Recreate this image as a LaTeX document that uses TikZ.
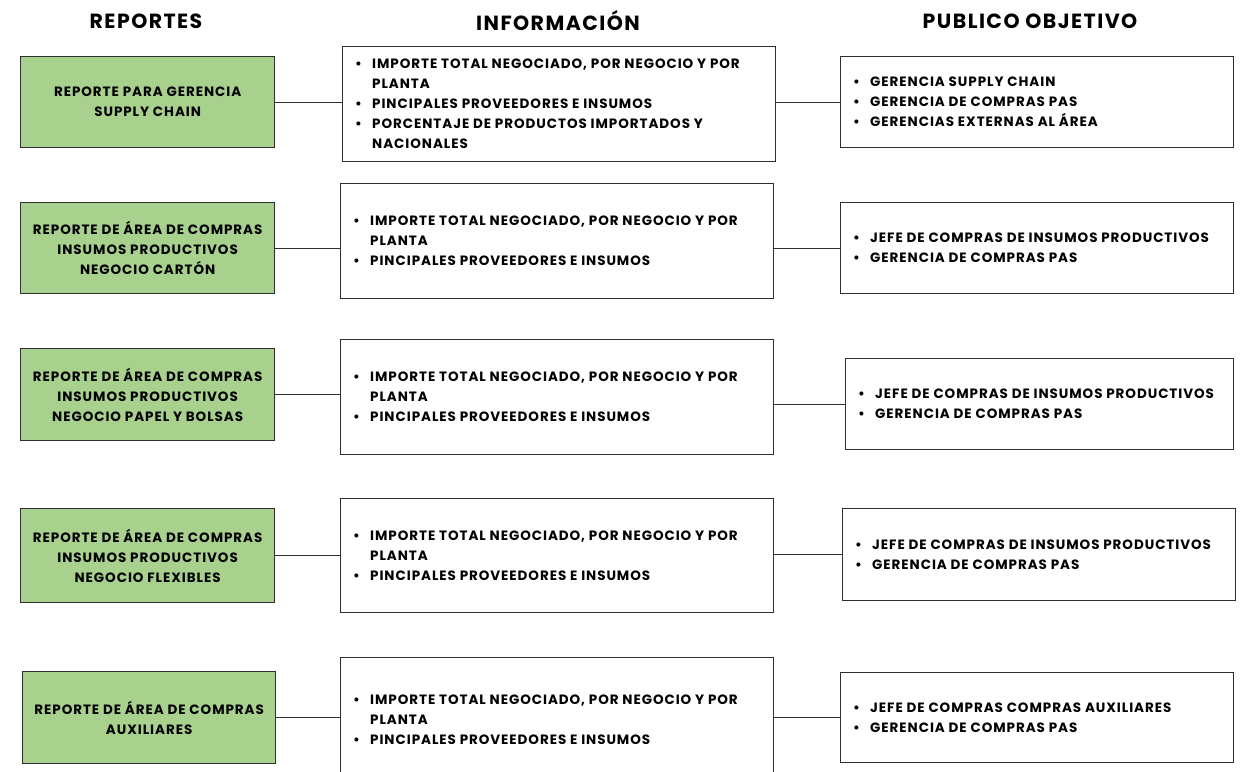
\documentclass[tikz,border=0pt]{standalone}
\usepackage{fontspec}
\setmainfont{Poppins}[LetterSpace=7]
\definecolor{boxgreen}{HTML}{A9D18E}
\definecolor{edge}{HTML}{2E2E2E}
% bullet and hanging indent for list lines
\newcommand\itm{\makebox[17pt][l]{\textbullet}}
\newcommand\cnt{\hspace*{17pt}}
\begin{document}
\begin{tikzpicture}[x=1pt,y=-1pt,
  every node/.style={font=\bfseries\fontsize{13.5}{20}\selectfont, text=black},
  boxframe/.style={draw=edge, line width=1.3pt, inner sep=0pt, anchor=north west},
  greenbox/.style={boxframe, fill=boxgreen, align=center},
  listbox/.style={boxframe, fill=white},
  listtext/.style={anchor=west, align=left, inner sep=0pt, xshift=13pt},
  heading/.style={font=\bfseries\fontsize{20.5}{24}\selectfont},
  link/.style={draw=edge, line width=1.3pt}
]
\useasboundingbox (0,0) rectangle (1250,771);

% column headings
\node[heading] (h1) at (146,21) {REPORTES};
\node[heading] (h2) at (558,21) {INFORMACIÓN};
\node[heading] (h3) at (1030,21) {PUBLICO OBJETIVO};

% row 1
\node[greenbox, minimum width=254, minimum height=91] (g1) at (20,56)
  {REPORTE PARA GERENCIA\\SUPPLY CHAIN};
\node[listbox, minimum width=433, minimum height=115] (i1) at (342,46) {};
\node[listtext] (t1) at (i1.west)
  {\itm IMPORTE TOTAL NEGOCIADO, POR NEGOCIO Y POR\\\cnt PLANTA\\\itm PINCIPALES PROVEEDORES E INSUMOS\\\itm PORCENTAJE DE PRODUCTOS IMPORTADOS Y\\\cnt NACIONALES};
\node[listbox, minimum width=393, minimum height=91] (a1) at (840,56) {};
\node[listtext] (u1) at (a1.west)
  {\itm GERENCIA SUPPLY CHAIN\\\itm GERENCIA DE COMPRAS PAS\\\itm GERENCIAS EXTERNAS AL ÁREA};

% row 2
\node[greenbox, minimum width=254, minimum height=91] (g2) at (20,202)
  {REPORTE DE ÁREA DE COMPRAS\\INSUMOS PRODUCTIVOS\\NEGOCIO CARTÓN};
\node[listbox, minimum width=433, minimum height=115] (i2) at (340,183) {};
\node[listtext] (t2) at (i2.west)
  {\itm IMPORTE TOTAL NEGOCIADO, POR NEGOCIO Y POR\\\cnt PLANTA\\\itm PINCIPALES PROVEEDORES E INSUMOS};
\node[listbox, minimum width=393, minimum height=91] (a2) at (840,202) {};
\node[listtext] (u2) at (a2.west)
  {\itm JEFE DE COMPRAS DE INSUMOS PRODUCTIVOS\\\itm GERENCIA DE COMPRAS PAS};

% row 3
\node[greenbox, minimum width=254, minimum height=92] (g3) at (20,348)
  {REPORTE DE ÁREA DE COMPRAS\\INSUMOS PRODUCTIVOS\\NEGOCIO PAPEL Y BOLSAS};
\node[listbox, minimum width=433, minimum height=115] (i3) at (340,339) {};
\node[listtext] (t3) at (i3.west)
  {\itm IMPORTE TOTAL NEGOCIADO, POR NEGOCIO Y POR\\\cnt PLANTA\\\itm PINCIPALES PROVEEDORES E INSUMOS};
\node[listbox, minimum width=388, minimum height=91] (a3) at (845,358) {};
\node[listtext] (u3) at (a3.west)
  {\itm JEFE DE COMPRAS DE INSUMOS PRODUCTIVOS\\\itm GERENCIA DE COMPRAS PAS};

% row 4
\node[greenbox, minimum width=254, minimum height=94] (g4) at (20,508)
  {REPORTE DE ÁREA DE COMPRAS\\INSUMOS PRODUCTIVOS\\NEGOCIO FLEXIBLES};
\node[listbox, minimum width=433, minimum height=114] (i4) at (340,498) {};
\node[listtext] (t4) at (i4.west)
  {\itm IMPORTE TOTAL NEGOCIADO, POR NEGOCIO Y POR\\\cnt PLANTA\\\itm PINCIPALES PROVEEDORES E INSUMOS};
\node[listbox, minimum width=393, minimum height=92] (a4) at (842,508) {};
\node[listtext] (u4) at (a4.west)
  {\itm JEFE DE COMPRAS DE INSUMOS PRODUCTIVOS\\\itm GERENCIA DE COMPRAS PAS};

% row 5
\node[greenbox, minimum width=253, minimum height=92] (g5) at (22,671)
  {REPORTE DE ÁREA DE COMPRAS\\AUXILIARES};
\node[listbox, minimum width=433, minimum height=118] (i5) at (340,657) {};
\node[listtext] (t5) at ([yshift=-3pt]i5.west)
  {\itm IMPORTE TOTAL NEGOCIADO, POR NEGOCIO Y POR\\\cnt PLANTA\\\itm PINCIPALES PROVEEDORES E INSUMOS};
\node[listbox, minimum width=393, minimum height=90] (a5) at (840,672) {};
\node[listtext] (u5) at (a5.west)
  {\itm JEFE DE COMPRAS COMPRAS AUXILIARES\\\itm GERENCIA DE COMPRAS PAS};

% connectors
\foreach \k in {1,...,5} {
  \draw[link] (g\k.east) -- (g\k.east -| i\k.west);
  \draw[link] (a\k.west -| i\k.east) -- (a\k.west);
}
\end{tikzpicture}
\end{document}
